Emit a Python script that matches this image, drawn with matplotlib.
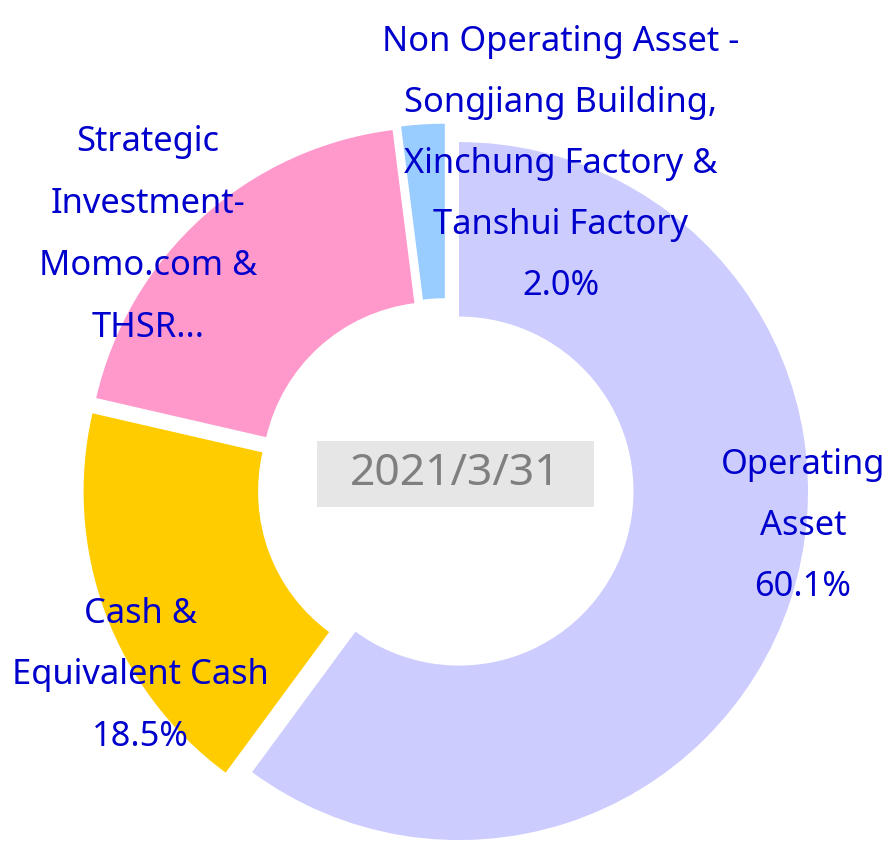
import matplotlib
matplotlib.use("Agg")
import matplotlib.pyplot as plt
from matplotlib.patches import Rectangle

plt.rcParams["font.family"] = ["Noto Sans", "DejaVu Sans"]

# Data
categories = ["Operating Asset", "Cash & Equivalent Cash",
              "Strategic Investment-Momo.com & THSR", "Non Operating Asset"]
shares = [60.1, 18.5, 19.4, 2.0]
colors = ["#CCCCFF", "#FFCC00", "#FF99CC", "#99CCFF"]
label_lines = [
    ["Operating", "Asset", "60.1%"],
    ["Cash &", "Equivalent Cash", "18.5%"],
    ["Strategic", "Investment-", "Momo.com &", "THSR..."],
    ["Non Operating Asset -", "Songjiang Building,", "Xinchung Factory &",
     "Tanshui Factory", "2.0%"],
]
date_label = "2021/3/31"

W, H = 892, 844
fig = plt.figure(figsize=(W / 100, H / 100), dpi=100)
ax = fig.add_axes([0, 0, 1, 1])
ax.set_xlim(0, W)
ax.set_ylim(0, H)
ax.set_aspect("equal")
ax.axis("off")

# donut geometry in pixels
cx, cy = 445.7, H - 486.7
R = 349
ax.pie(shares, colors=colors, startangle=90, counterclock=False,
       radius=R, center=(cx, cy), explode=[14] * len(shares),
       wedgeprops=dict(width=R * 0.5, linewidth=0))
ax.set_xlim(0, W)
ax.set_ylim(0, H)

# labels (x centre, y of first line, line step), pixel positions
label_pos = [(803, 465, 61), (140, 614, 61.5), (148, 142, 62), (561, 42, 61)]
for lines, (lx, ly, step) in zip(label_lines, label_pos):
    for i, line in enumerate(lines):
        ax.text(lx, H - (ly + i * step), line, ha="center", va="center",
                fontsize=24.8, color="#0000CC")

# centre date box
ax.add_patch(Rectangle((317, H - 506.5), 277, 65.5, facecolor="#E6E6E6",
                       edgecolor="none"))
ax.text(455.5, H - 474, date_label, ha="center", va="center",
        fontsize=32, color="#7F7F7F")

fig.savefig("out.png", dpi=100)
